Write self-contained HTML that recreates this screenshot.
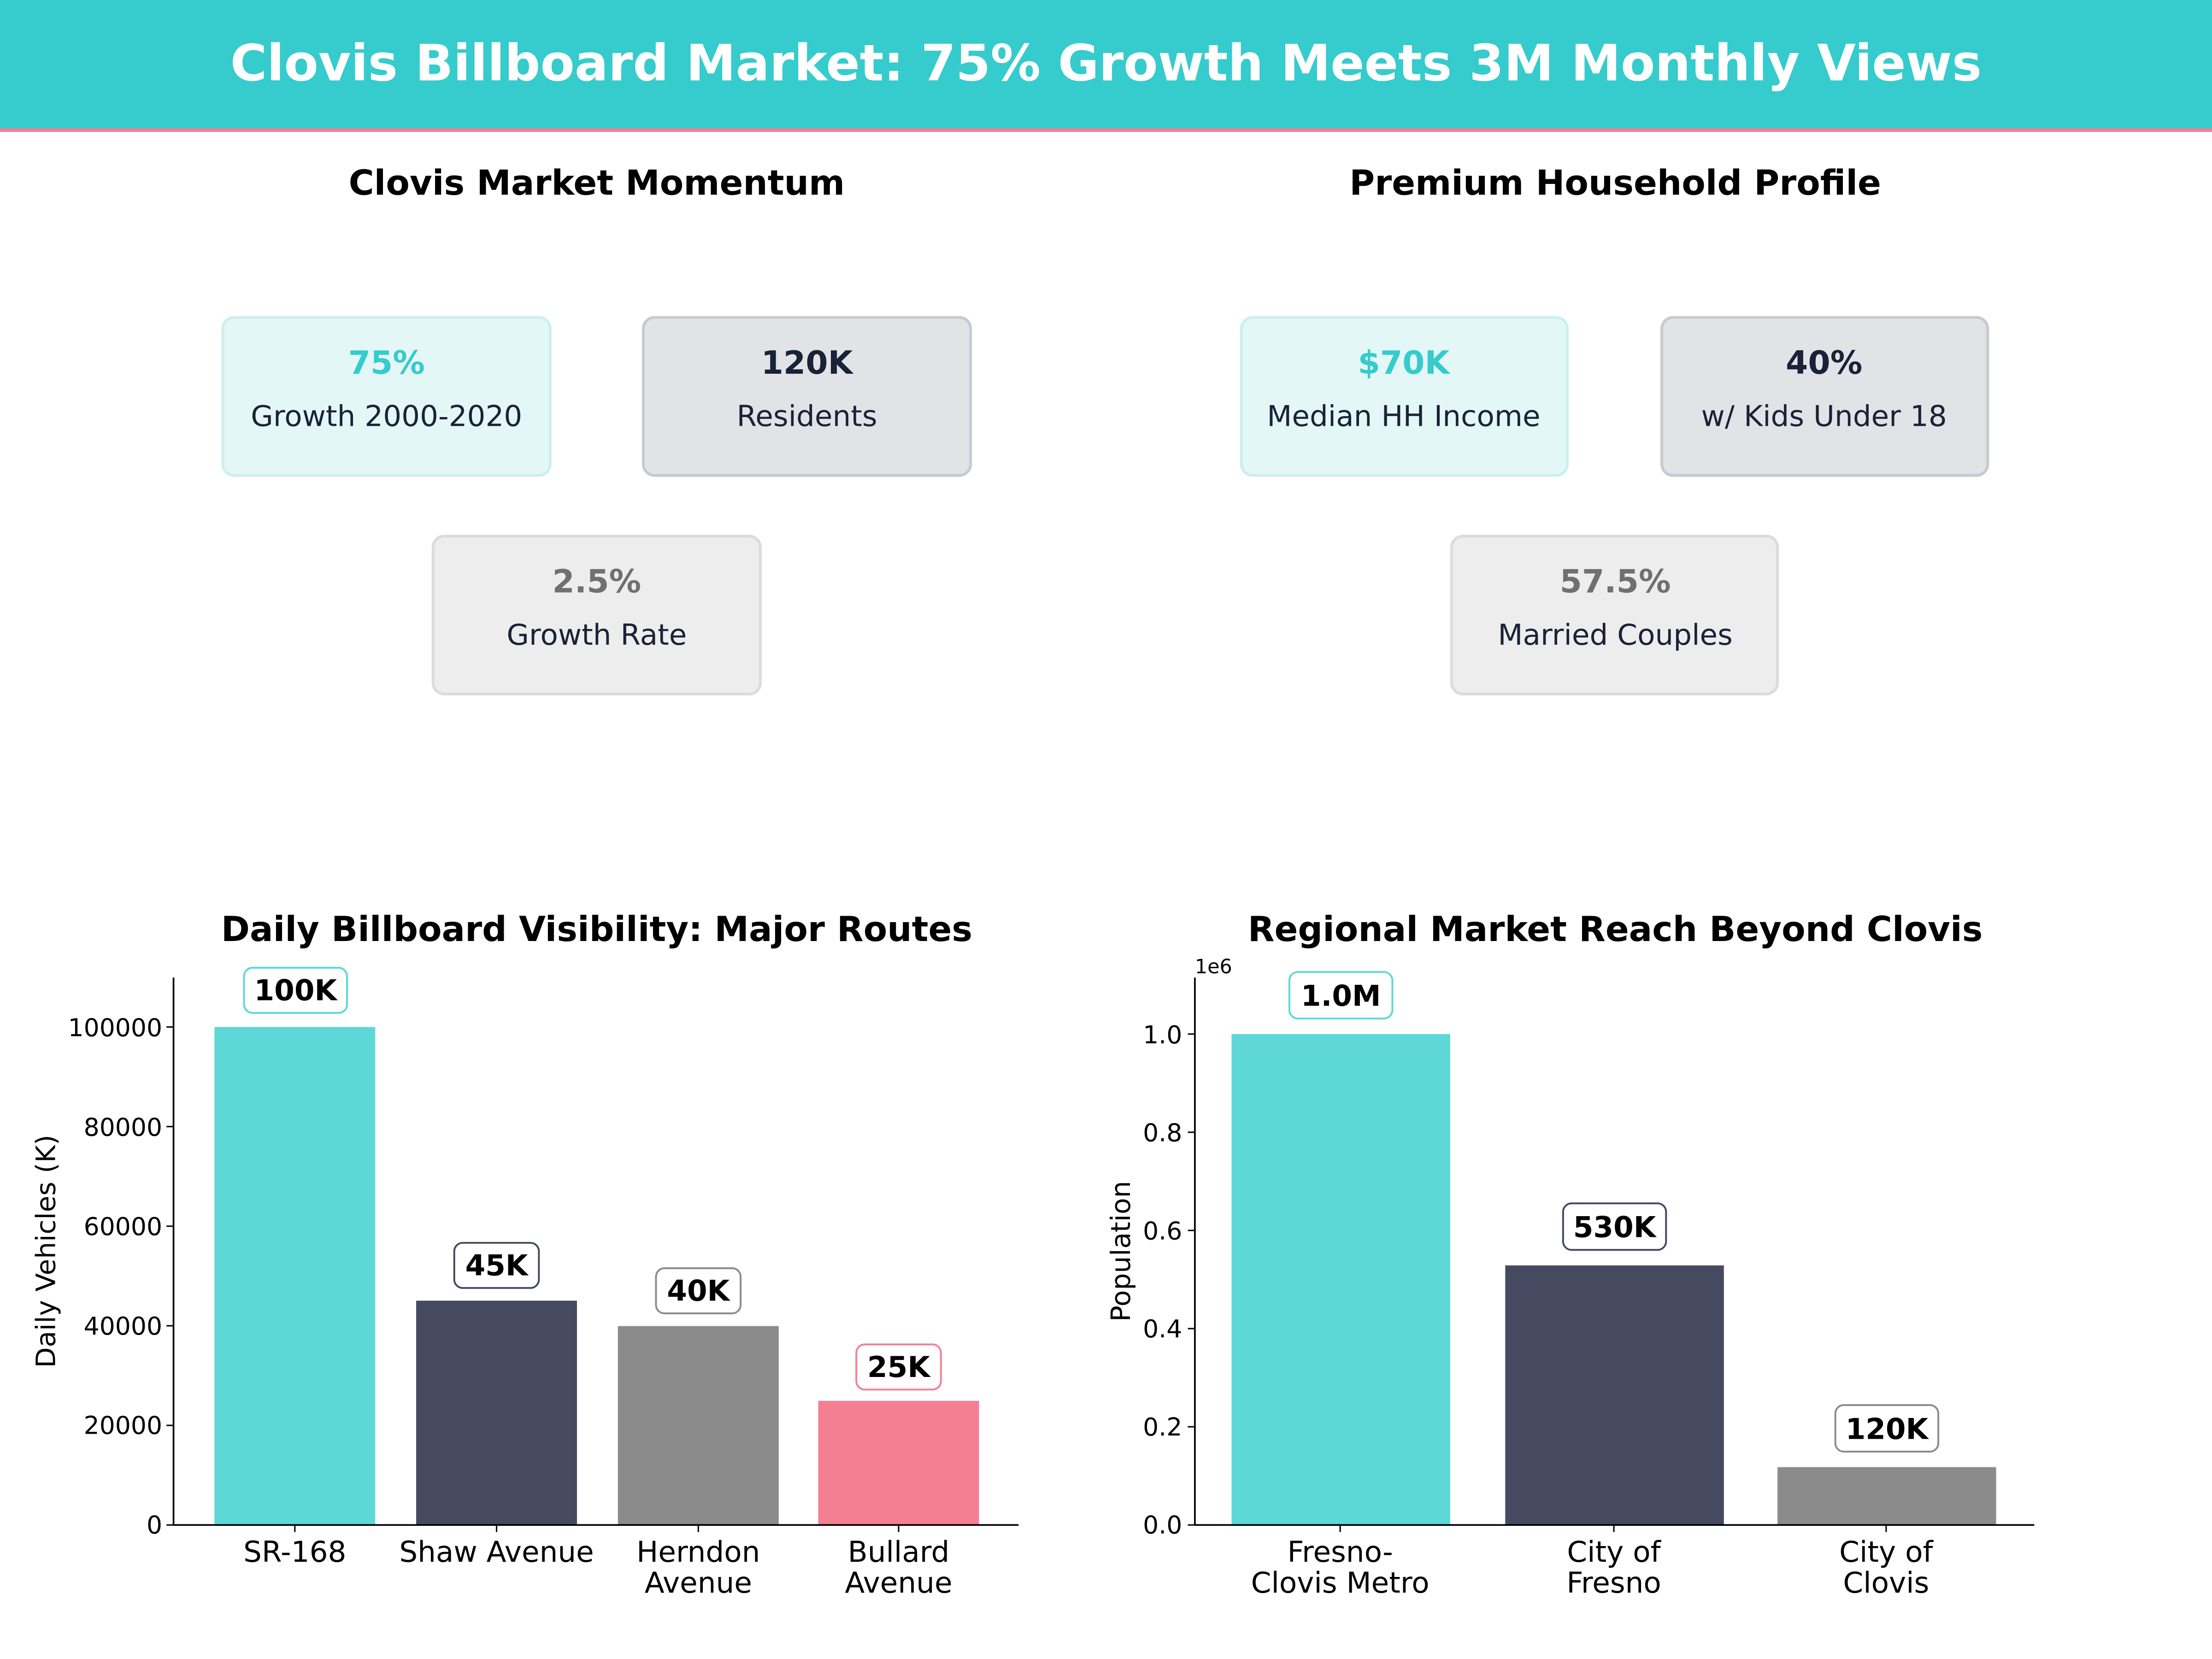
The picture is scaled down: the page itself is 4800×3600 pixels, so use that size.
<!DOCTYPE html>
<html><head><meta charset="utf-8"><style>html,body{margin:0;padding:0;background:#fff}svg{display:block}</style></head>
<body>
<svg width="4800" height="3600" viewBox="0 0 1568 1176" xmlns="http://www.w3.org/2000/svg" font-family="DejaVu Sans, Liberation Sans, sans-serif">
<rect x="0" y="0" width="1568" height="1176" fill="#fff"/>
<rect x="0" y="0" width="1568" height="92" fill="#36CBCC"/>
<rect x="0" y="91" width="1568" height="2.5" fill="#F47F93"/>
<text x="784" y="57" text-anchor="middle" font-size="35.4" font-weight="bold" fill="#fff">Clovis Billboard Market: 75% Growth Meets 3M Monthly Views</text>

<text x="423" y="138" text-anchor="middle" font-size="24.5" font-weight="bold" fill="#000">Clovis Market Momentum</text>
<text x="1145" y="138" text-anchor="middle" font-size="24.5" font-weight="bold" fill="#000">Premium Household Profile</text>

<g font-size="20.5" text-anchor="middle">
<rect x="158" y="225" width="232" height="112" rx="8" fill="#E4F7F7" stroke="#CDEFEF" stroke-width="2"/>
<text x="274" y="265" font-size="22.7" font-weight="bold" fill="#36CBCC">75%</text>
<text x="274" y="302" fill="#1A2238">Growth 2000-2020</text>
<rect x="456" y="225" width="232" height="112" rx="8" fill="#E2E3E7" stroke="#C9CAD0" stroke-width="2"/>
<text x="572" y="265" font-size="22.7" font-weight="bold" fill="#1A2238">120K</text>
<text x="572" y="302" fill="#1A2238">Residents</text>
<rect x="307" y="380" width="232" height="112" rx="8" fill="#EDEDED" stroke="#DCDCDC" stroke-width="2"/>
<text x="423" y="420" font-size="22.7" font-weight="bold" fill="#707070">2.5%</text>
<text x="423" y="457" fill="#1A2238">Growth Rate</text>

<rect x="880" y="225" width="231" height="112" rx="8" fill="#E4F7F7" stroke="#CDEFEF" stroke-width="2"/>
<text x="995" y="265" font-size="22.7" font-weight="bold" fill="#36CBCC">$70K</text>
<text x="995" y="302" fill="#1A2238">Median HH Income</text>
<rect x="1178" y="225" width="231" height="112" rx="8" fill="#E2E3E7" stroke="#C9CAD0" stroke-width="2"/>
<text x="1293" y="265" font-size="22.7" font-weight="bold" fill="#1A2238">40%</text>
<text x="1293" y="302" fill="#1A2238">w/ Kids Under 18</text>
<rect x="1029" y="380" width="231" height="112" rx="8" fill="#EDEDED" stroke="#DCDCDC" stroke-width="2"/>
<text x="1145" y="420" font-size="22.7" font-weight="bold" fill="#707070">57.5%</text>
<text x="1145" y="457" fill="#1A2238">Married Couples</text>
</g>

<!-- Left chart -->
<text x="423" y="667" text-anchor="middle" font-size="24.5" font-weight="bold">Daily Billboard Visibility: Major Routes</text>
<rect x="152" y="728" width="114" height="353" fill="#5DD8D6"/>
<rect x="295" y="922" width="114" height="159" fill="#464A60"/>
<rect x="438" y="940" width="114" height="141" fill="#8B8B8B"/>
<rect x="580" y="993" width="114" height="88" fill="#F47F93"/>
<line x1="123" y1="693" x2="123" y2="1081" stroke="#000" stroke-width="1.2"/>
<line x1="123" y1="1081" x2="722" y2="1081" stroke="#000" stroke-width="1.2"/>
<g font-size="17.5" text-anchor="end">
<line x1="118" y1="1081" x2="123" y2="1081" stroke="#000"/><text x="115" y="1087">0</text>
<line x1="118" y1="1010.4" x2="123" y2="1010.4" stroke="#000"/><text x="115" y="1016.5">20000</text>
<line x1="118" y1="939.8" x2="123" y2="939.8" stroke="#000"/><text x="115" y="946">40000</text>
<line x1="118" y1="869.2" x2="123" y2="869.2" stroke="#000"/><text x="115" y="875.5">60000</text>
<line x1="118" y1="798.6" x2="123" y2="798.6" stroke="#000"/><text x="115" y="805">80000</text>
<line x1="118" y1="728" x2="123" y2="728" stroke="#000"/><text x="115" y="734.5">100000</text>
</g>
<text transform="translate(39,887) rotate(-90)" text-anchor="middle" font-size="19">Daily Vehicles (K)</text>
<g font-size="20.5" text-anchor="middle">
<line x1="209" y1="1081" x2="209" y2="1086" stroke="#000"/><text x="209" y="1107">SR-168</text>
<line x1="352" y1="1081" x2="352" y2="1086" stroke="#000"/><text x="352" y="1107">Shaw Avenue</text>
<line x1="495" y1="1081" x2="495" y2="1086" stroke="#000"/><text x="495" y="1107">Herndon</text><text x="495" y="1129">Avenue</text>
<line x1="637" y1="1081" x2="637" y2="1086" stroke="#000"/><text x="637" y="1107">Bullard</text><text x="637" y="1129">Avenue</text>
</g>
<g font-size="20.5" font-weight="bold" text-anchor="middle">
<rect x="173" y="686" width="73" height="32" rx="6" fill="#fff" stroke="#5DD8D6" stroke-width="1.3"/><text x="209.5" y="709">100K</text>
<rect x="322" y="881" width="60" height="32" rx="6" fill="#fff" stroke="#464A60" stroke-width="1.3"/><text x="352" y="904">45K</text>
<rect x="465" y="899" width="60" height="32" rx="6" fill="#fff" stroke="#8B8B8B" stroke-width="1.3"/><text x="495" y="922">40K</text>
<rect x="607" y="953" width="60" height="32" rx="6" fill="#fff" stroke="#F47F93" stroke-width="1.3"/><text x="637" y="976">25K</text>
</g>

<!-- Right chart -->
<text x="1145" y="667" text-anchor="middle" font-size="24.5" font-weight="bold">Regional Market Reach Beyond Clovis</text>
<rect x="873" y="733" width="155" height="348" fill="#5DD8D6"/>
<rect x="1067" y="897" width="155" height="184" fill="#464A60"/>
<rect x="1260" y="1040" width="155" height="41" fill="#8B8B8B"/>
<line x1="847" y1="693" x2="847" y2="1081" stroke="#000" stroke-width="1.2"/>
<line x1="847" y1="1081" x2="1442" y2="1081" stroke="#000" stroke-width="1.2"/>
<text x="847" y="690" font-size="14">1e6</text>
<g font-size="17.5" text-anchor="end">
<line x1="842" y1="1081" x2="847" y2="1081" stroke="#000"/><text x="838" y="1087">0.0</text>
<line x1="842" y1="1011.4" x2="847" y2="1011.4" stroke="#000"/><text x="838" y="1017.5">0.2</text>
<line x1="842" y1="941.8" x2="847" y2="941.8" stroke="#000"/><text x="838" y="948">0.4</text>
<line x1="842" y1="872.2" x2="847" y2="872.2" stroke="#000"/><text x="838" y="878.5">0.6</text>
<line x1="842" y1="802.6" x2="847" y2="802.6" stroke="#000"/><text x="838" y="809">0.8</text>
<line x1="842" y1="733" x2="847" y2="733" stroke="#000"/><text x="838" y="739.5">1.0</text>
</g>
<text transform="translate(801,887) rotate(-90)" text-anchor="middle" font-size="19">Population</text>
<g font-size="20.5" text-anchor="middle">
<line x1="950" y1="1081" x2="950" y2="1086" stroke="#000"/><text x="950" y="1107">Fresno-</text><text x="950" y="1129">Clovis Metro</text>
<line x1="1144" y1="1081" x2="1144" y2="1086" stroke="#000"/><text x="1144" y="1107">City of</text><text x="1144" y="1129">Fresno</text>
<line x1="1337" y1="1081" x2="1337" y2="1086" stroke="#000"/><text x="1337" y="1107">City of</text><text x="1337" y="1129">Clovis</text>
</g>
<g font-size="20.5" font-weight="bold" text-anchor="middle">
<rect x="914" y="689" width="73" height="33" rx="6" fill="#fff" stroke="#5DD8D6" stroke-width="1.3"/><text x="950.5" y="713">1.0M</text>
<rect x="1108" y="853" width="73" height="33" rx="6" fill="#fff" stroke="#464A60" stroke-width="1.3"/><text x="1144.5" y="877">530K</text>
<rect x="1301" y="996" width="73" height="33" rx="6" fill="#fff" stroke="#8B8B8B" stroke-width="1.3"/><text x="1337.5" y="1020">120K</text>
</g>
</svg>
</body></html>
